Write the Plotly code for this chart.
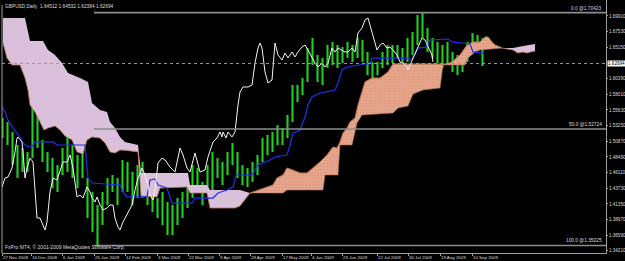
import plotly.graph_objects as go

# ---------------- data (x = daily bar index, y = price) ----------------
date_ticks = [0, 14.5, 30, 46, 61.5, 77.5, 93, 108.5, 124, 140, 154.5, 170, 187.5, 203, 219, 235]
date_labels = ["27 Nov 2008", "16 Dec 2008", "6 Jan 2009", "25 Jan 2009", "12 Feb 2009",
               "3 Mar 2009", "22 Mar 2009", "9 Apr 2009", "28 Apr 2009", "17 May 2009",
               "4 Jun 2009", "23 Jun 2009", "12 Jul 2009", "30 Jul 2009", "19 Aug 2009",
               "10 Sep 2009"]
price_ticks = [1.69910, 1.67530, 1.65150, 1.60390, 1.58010, 1.55630, 1.53250, 1.50870,
               1.48490, 1.46110, 1.43730, 1.41350, 1.38970, 1.36590, 1.34210]

bar_high = [1.5440, 1.5380, 1.5228, 1.5030, 1.4984, 1.4924, 1.5638, 1.5684, 1.5106, 1.4924,
            1.4832, 1.4726, 1.4984, 1.5364, 1.5030, 1.4878, 1.4924, 1.4528, 1.4316, 1.4118,
            1.4316, 1.4528, 1.4574, 1.4528, 1.4802, 1.4772, 1.4620, 1.4726, 1.4772, 1.4528,
            1.4316, 1.4224, 1.4316, 1.4164, 1.4118, 1.4224, 1.4316, 1.4422, 1.4726, 1.4680,
            1.4468, 1.4726, 1.4924, 1.4832, 1.4772, 1.4924, 1.5060, 1.4924, 1.4726, 1.4680,
            1.4772, 1.4878, 1.5136, 1.5182, 1.5228, 1.5334, 1.5288, 1.5486, 1.5942, 1.5942,
            1.6048, 1.6504, 1.6656, 1.6398, 1.6352, 1.6550, 1.6596, 1.6550, 1.6520, 1.6596,
            1.6550, 1.6656, 1.6626, 1.6444, 1.6292, 1.6292, 1.6444, 1.6550, 1.6550, 1.6550,
            1.6504, 1.6656, 1.6748, 1.7006, 1.7036, 1.6808, 1.6656, 1.6596, 1.6550, 1.6596,
            1.6444, 1.6398, 1.6398, 1.6596, 1.6732, 1.6702, 1.6656]
bar_low = [1.5136, 1.5030, 1.4726, 1.4528, 1.4620, 1.4620, 1.4832, 1.4984, 1.4772, 1.4620,
           1.4376, 1.4316, 1.4574, 1.4620, 1.4528, 1.4376, 1.4528, 1.3920, 1.3708, 1.3510,
           1.3814, 1.4118, 1.4316, 1.4118, 1.4316, 1.4316, 1.4118, 1.4224, 1.4224, 1.4118,
           1.4012, 1.3920, 1.3814, 1.3662, 1.3662, 1.3814, 1.3920, 1.4072, 1.4224, 1.4316,
           1.4118, 1.4316, 1.4316, 1.4528, 1.4422, 1.4574, 1.4726, 1.4528, 1.4422, 1.4392,
           1.4468, 1.4574, 1.4772, 1.4878, 1.4924, 1.5030, 1.5030, 1.5136, 1.5380, 1.5684,
           1.5790, 1.5988, 1.6246, 1.5988, 1.5942, 1.6200, 1.6246, 1.6200, 1.6276, 1.6352,
           1.6292, 1.6352, 1.6292, 1.6094, 1.6048, 1.6094, 1.6200, 1.6246, 1.6276, 1.6352,
           1.6276, 1.6292, 1.6398, 1.6550, 1.6656, 1.6444, 1.6352, 1.6276, 1.6200, 1.6246,
           1.6140, 1.6094, 1.6140, 1.6292, 1.6444, 1.6504, 1.6231]
bar_pos = [0.25 + 2.5 * k for k in range(len(bar_high))]

senkou_b_x = [0.5, 11.5, 14, 20.5, 23, 26.5, 30, 33, 39, 43, 45, 49, 52.5, 54, 56.5, 59, 61.5,
              68, 69.5, 93, 94, 102.5, 104, 119, 124, 140.5, 142.5, 160.5, 161.5, 168, 169,
              175, 177.5, 180, 195.5, 198, 203, 205.5, 210.5, 219, 220.5, 231.5, 233, 236.5,
              239, 250, 255.5, 260.5, 264, 266.5]
senkou_b = [1.6960, 1.6960, 1.6611, 1.6611, 1.6474, 1.6398, 1.6276, 1.6124, 1.6048, 1.5988,
            1.5668, 1.5562, 1.5532, 1.5380, 1.5288, 1.5152, 1.5076, 1.5030, 1.4604, 1.4604,
            1.4422, 1.4422, 1.4346, 1.4346, 1.4300, 1.4300, 1.4346, 1.4346, 1.4574, 1.4574,
            1.5030, 1.5030, 1.5364, 1.5486, 1.5516, 1.5592, 1.5623, 1.5805, 1.5866, 1.5896,
            1.6246, 1.6246, 1.6352, 1.6444, 1.6474, 1.6504, 1.6504, 1.6535, 1.6550, 1.6565]
senkou_a_x = [0.5, 2.5, 5, 9, 11.5, 13, 14, 16.5, 19, 21, 23, 26.5, 29, 31.5, 35, 37.5, 40.5,
              42.5, 45, 49, 51.5, 54, 56.5, 59, 61.5, 68, 69.5, 77.5, 79, 92.5, 94, 102.5, 104,
              116.5, 119, 121.5, 124, 135.5, 137.5, 140.5, 142.5, 145.5, 149, 152.5, 155.5,
              159, 162.5, 165.5, 167.5, 169, 170.5, 172.5, 174, 176.5, 178, 179, 181.5, 185,
              189, 193, 195.5, 222.5, 225, 229, 232.5, 235.5, 239, 241.5, 243, 245, 246.5, 249,
              250, 255.5, 258, 260.5, 262.5, 264, 266.5]
senkou_a = [1.6580, 1.6352, 1.6246, 1.6246, 1.6048, 1.5866, 1.5638, 1.5532, 1.5380, 1.5258,
            1.5288, 1.5319, 1.5258, 1.5167, 1.5106, 1.4924, 1.4893, 1.5106, 1.5152, 1.5136,
            1.5060, 1.4924, 1.4908, 1.4954, 1.4954, 1.4924, 1.4255, 1.4240, 1.4376, 1.4392,
            1.4300, 1.4300, 1.4072, 1.4072, 1.4103, 1.4194, 1.4300, 1.4422, 1.4528, 1.4574,
            1.4680, 1.4650, 1.4604, 1.4604, 1.4680, 1.4772, 1.4878, 1.5000, 1.4984, 1.5076,
            1.5212, 1.5288, 1.5380, 1.5440, 1.5638, 1.5744, 1.5988, 1.6048, 1.6048, 1.6140,
            1.6261, 1.6261, 1.6292, 1.6398, 1.6550, 1.6596, 1.6596, 1.6672, 1.6672, 1.6596,
            1.6550, 1.6520, 1.6504, 1.6474, 1.6428, 1.6444, 1.6428, 1.6444, 1.6459]
cloud_cross = [124, 250]

kijun_x = [0, 1.5, 3, 5.5, 7.5, 9, 10.5, 13, 15, 16.5, 25.5, 27.5, 41.5, 43, 45, 59, 60.5, 62.5,
           72.5, 74, 76.5, 78, 82.5, 85, 95, 96.5, 105.5, 108, 112.5, 115.5, 117, 125, 128, 134,
           136.5, 142.5, 144, 145.5, 149, 151.5, 153, 155, 159, 166.5, 168, 170, 172.5, 177.5,
           181.5, 184, 185, 203, 204, 206.5, 208, 212.5, 214, 223, 225, 234, 235.5, 241]
kijun = [1.5608, 1.5532, 1.5410, 1.5288, 1.5212, 1.5152, 1.5060, 1.5000, 1.5000, 1.5076,
         1.5076, 1.5030, 1.5030, 1.4528, 1.4452, 1.4422, 1.4316, 1.4240, 1.4240, 1.4498,
         1.4513, 1.4422, 1.4376, 1.4148, 1.4148, 1.4224, 1.4224, 1.4300, 1.4346, 1.4392,
         1.4574, 1.4574, 1.4726, 1.4802, 1.4848, 1.4878, 1.5030, 1.5212, 1.5258, 1.5456,
         1.5638, 1.5760, 1.5820, 1.5866, 1.5972, 1.6170, 1.6216, 1.6246, 1.6261, 1.6261,
         1.6352, 1.6352, 1.6322, 1.6398, 1.6504, 1.6520, 1.6626, 1.6641, 1.6596, 1.6565,
         1.6444, 1.6428]

chikou_x = [0, 1.5, 3, 5, 6.5, 7.5, 8, 10, 10.5, 11.5, 12.5, 13, 14, 15.5, 17.5, 19, 20.5, 21.5,
            22.5, 24, 25.5, 27.5, 30.5, 32.5, 34, 35.5, 37.5, 39, 40.5, 42.5, 44, 45, 46.5, 47.5,
            49, 50.5, 52.5, 54, 55.5, 56.5, 58, 59, 60.5, 62.5, 65, 66.5, 68, 70, 71.5, 73, 74,
            75.5, 76.5, 78, 80, 81.5, 84, 86.5, 89, 90.5, 92.5, 94, 96.5, 99, 101.5, 103, 105.5,
            107.5, 109, 110, 110.5, 112, 113, 115, 116.5, 118, 119, 120.5, 123, 125, 126.5, 128,
            129, 130, 131.5, 133, 135, 136.5, 138, 140, 141.5, 143, 145, 146.5, 148, 150, 151.5,
            153, 155, 156.5, 158, 160, 161.5, 163, 165, 166.5, 168, 170, 171.5, 173, 175, 176.5,
            178, 180, 181.5, 183, 185, 186.5, 187.5, 189, 190.5, 192.5, 194, 195.5, 197.5, 199,
            200.5, 202.5, 203, 204, 205.5, 208, 210, 211.5, 213, 215, 215.5]
chikou = [1.4392, 1.4528, 1.4544, 1.4680, 1.4924, 1.5136, 1.5152, 1.5076, 1.4924, 1.4528,
          1.4680, 1.4726, 1.4832, 1.4772, 1.3920, 1.3920, 1.3814, 1.3738, 1.3860, 1.4316,
          1.4528, 1.4498, 1.4772, 1.4772, 1.4878, 1.4680, 1.4240, 1.4270, 1.4224, 1.4392,
          1.4316, 1.4224, 1.4164, 1.4240, 1.4118, 1.4042, 1.4072, 1.4118, 1.4118, 1.3920,
          1.3784, 1.3738, 1.3860, 1.3966, 1.4118, 1.4346, 1.4528, 1.4680, 1.4574, 1.4422,
          1.4270, 1.4194, 1.4346, 1.4756, 1.4832, 1.4802, 1.4696, 1.4620, 1.4984, 1.4878,
          1.4680, 1.4620, 1.4908, 1.4620, 1.4650, 1.4848, 1.5076, 1.5136, 1.5228, 1.5152,
          1.5228, 1.5136, 1.5228, 1.5152, 1.5228, 1.5638, 1.5836, 1.5912, 1.5912, 1.5942,
          1.6276, 1.6504, 1.6580, 1.6504, 1.6140, 1.5972, 1.6018, 1.6580, 1.6398, 1.6322,
          1.6428, 1.6352, 1.6444, 1.6368, 1.6444, 1.6520, 1.6550, 1.6474, 1.6352, 1.6276,
          1.6216, 1.6276, 1.6216, 1.6276, 1.6504, 1.6444, 1.6504, 1.6474, 1.6444, 1.6444,
          1.6504, 1.6444, 1.6732, 1.6808, 1.6930, 1.6960, 1.6748, 1.6596, 1.6474, 1.6550,
          1.6580, 1.6504, 1.6520, 1.6474, 1.6398, 1.6292, 1.6276, 1.6216, 1.6170, 1.6246,
          1.6352, 1.6520, 1.6656, 1.6626, 1.6520, 1.6398, 1.6292]

fib_levels = [1.70423, 1.52724, 1.35025]
fib_names = ["0.0", "50.0", "100.0"]
fib_start = 46
last_price = 1.62694
title_text = "GBPUSD,Daily  1.64512 1.64532 1.62384 1.62694"
footer_text = "FxPro MT4, \u00a9 2001-2009 MetaQuotes Software Corp."

# ---------------- figure ----------------
X_MAX = 302
Y_MIN, Y_MAX = 1.33884, 1.7234
FONT = "Liberation Sans"
TXT = "#DCDCDC"
GRAY = "#8C8C8C"

fig = go.Figure()

# OHLC bars (high-low strokes)
bx, by = [], []
for x, h, l in zip(bar_pos, bar_high, bar_low):
    bx += [x, x, None]
    by += [l, h, None]
fig.add_trace(go.Scatter(x=bx, y=by, mode="lines", line=dict(color="#22D022", width=2.1),
                         hoverinfo="skip"))

# Ichimoku cloud
def pts(xs, ys, lo, hi):
    return [(x, y) for x, y in zip(xs, ys) if lo <= x <= hi]

segments = [(0.5, cloud_cross[0], "B"), (cloud_cross[0], cloud_cross[1], "A"),
            (cloud_cross[1], 266.5, "B")]
for lo, hi, top in segments:
    a = pts(senkou_a_x, senkou_a, lo, hi)
    b = pts(senkou_b_x, senkou_b, lo, hi)
    up, dn = (b, a) if top == "B" else (a, b)
    poly = up + dn[::-1]
    px = [p[0] for p in poly] + [poly[0][0]]
    py = [p[1] for p in poly] + [poly[0][1]]
    if top == "B":
        fig.add_trace(go.Scatter(x=px, y=py, mode="lines", fill="toself",
                                 fillcolor="#DAC0DA", line=dict(width=0), hoverinfo="skip"))
    else:
        fig.add_trace(go.Scatter(x=px, y=py, mode="lines", fill="toself",
                                 fillcolor="#E3A68C", line=dict(width=0.6, color="#A8704F"),
                                 fillpattern=dict(shape=".", fgcolor="#EE6A4C",
                                                  bgcolor="#E3A68C", size=3, solidity=0.06,
                                                  fillmode="replace"),
                                 hoverinfo="skip"))

# Senkou span A edge line
fig.add_trace(go.Scatter(x=senkou_a_x, y=senkou_a, mode="lines",
                         line=dict(color="#B87A52", width=0.8), hoverinfo="skip"))

# Kijun-sen
fig.add_trace(go.Scatter(x=kijun_x, y=kijun, mode="lines",
                         line=dict(color="#1F2FF0", width=1.2), hoverinfo="skip"))
# Chikou span
fig.add_trace(go.Scatter(x=chikou_x, y=chikou, mode="lines",
                         line=dict(color="#F4F4F4", width=1), hoverinfo="skip"))

shapes = []
for lvl in fib_levels:
    shapes.append(dict(type="line", xref="x", yref="y", x0=fib_start, x1=X_MAX, y0=lvl, y1=lvl,
                       line=dict(color=GRAY, width=1.6), layer="above"))
shapes.append(dict(type="line", xref="x", yref="y", x0=0, x1=X_MAX, y0=last_price, y1=last_price,
                   line=dict(color="#9A9A9A", width=1, dash="dot"), layer="above"))
shapes.append(dict(type="line", xref="paper", yref="paper", x0=0, x1=0, y0=0, y1=0.98,
                   line=dict(color="#A0A0A0", width=1)))

annotations = [
    dict(text=title_text, xref="paper", yref="paper", x=0, y=1, xanchor="left", yanchor="top",
         xshift=1, yshift=-2, showarrow=False, font=dict(family=FONT, size=4.8, color=TXT)),
    dict(text=footer_text, xref="paper", yref="paper", x=0, y=0, xanchor="left",
         yanchor="bottom", xshift=1, yshift=1, showarrow=False,
         font=dict(family=FONT, size=5, color=TXT)),
    dict(text=f"{last_price:.5f}", xref="paper", yref="y", x=1, y=last_price, xanchor="left",
         yanchor="middle", xshift=1, showarrow=False, bgcolor="#FFFFFF", borderpad=0,
         font=dict(family=FONT, size=4.6, color="#000000")),
]
for lvl, nm in zip(fib_levels, fib_names):
    annotations.append(dict(text=f"{nm} @{lvl:.5f}", xref="paper", yref="y", x=1, y=lvl,
                            xanchor="right", yanchor="bottom", xshift=-2, yshift=0,
                            showarrow=False, font=dict(family=FONT, size=4.8, color=TXT)))

fig.update_layout(
    template="none",
    width=625, height=261,
    margin=dict(l=2, r=19, t=0, b=8, pad=0),
    paper_bgcolor="#000000", plot_bgcolor="#000000",
    showlegend=False,
    shapes=shapes, annotations=annotations,
    xaxis=dict(range=[0, X_MAX], showgrid=False, zeroline=False, showline=True,
               linecolor="#A0A0A0", linewidth=1, ticks="outside", ticklen=2,
               tickcolor="#A0A0A0", tickvals=date_ticks, ticktext=date_labels,
               tickangle=0, ticklabelposition="outside right", automargin=False,
               tickfont=dict(family=FONT, size=4.4, color=TXT), fixedrange=True),
    yaxis=dict(range=[Y_MIN, Y_MAX], side="right", showgrid=False, zeroline=False,
               showline=True, linecolor="#A0A0A0", linewidth=1, ticks="outside", ticklen=1,
               tickcolor="#A0A0A0", tickvals=price_ticks,
               ticktext=[f"{v:.5f}" for v in price_ticks], automargin=False,
               tickfont=dict(family=FONT, size=4.6, color=TXT), fixedrange=True),
)

fig.write_html("out.html", config={"displayModeBar": False})
